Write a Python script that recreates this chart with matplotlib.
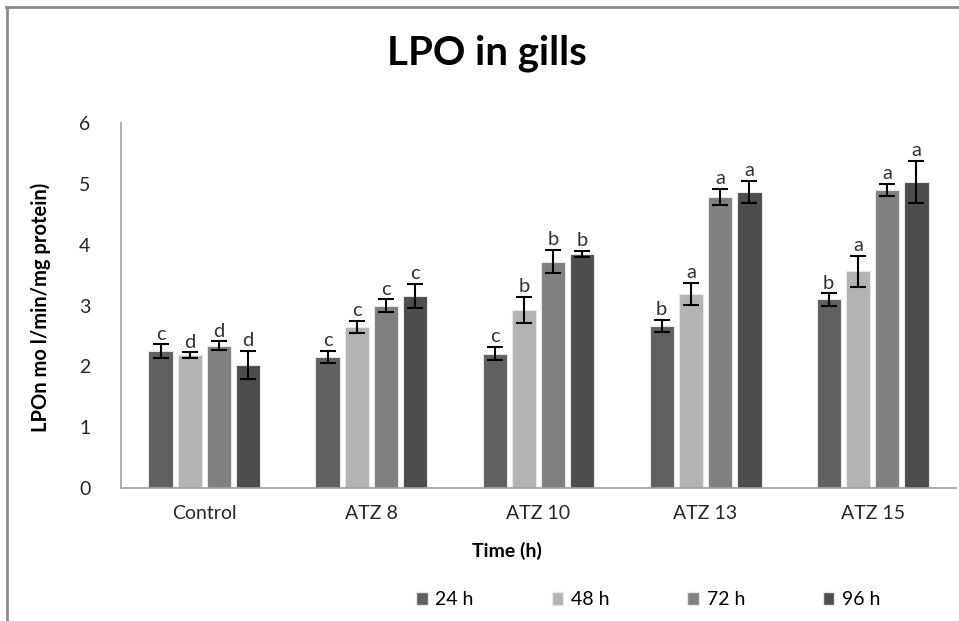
"""LPO in gills - grouped bars with SE and significance letters."""

import matplotlib.pyplot as plt
import numpy as np
from matplotlib.lines import Line2D
from matplotlib.patches import Patch

groups = ['Control', 'ATZ 8', 'ATZ 10', 'ATZ 13', 'ATZ 15']
series = ['24 h', '48 h', '72 h', '96 h']

lpo_24 = [2.25, 2.15, 2.21, 2.66, 3.10]
lpo_48 = [2.18, 2.65, 2.93, 3.19, 3.56]
lpo_72 = [2.34, 3.00, 3.72, 4.78, 4.90]
lpo_96 = [2.02, 3.16, 3.85, 4.87, 5.03]

err_24 = [0.11, 0.10, 0.11, 0.10, 0.10]
err_48 = [0.05, 0.10, 0.21, 0.18, 0.26]
err_72 = [0.07, 0.10, 0.19, 0.13, 0.10]
err_96 = [0.23, 0.20, 0.05, 0.18, 0.35]

let_24 = ['c', 'c', 'c', 'b', 'b']
let_48 = ['d', 'c', 'b', 'a', 'a']
let_72 = ['d', 'c', 'b', 'a', 'a']
let_96 = ['d', 'c', 'b', 'a', 'a']

colors = ['#606060', '#b3b3b3', '#808080', '#4d4d4d']

values = [lpo_24, lpo_48, lpo_72, lpo_96]
errors = [err_24, err_48, err_72, err_96]
letters = [let_24, let_48, let_72, let_96]

plt.rcParams['font.family'] = ['Lato', 'DejaVu Sans']

fig = plt.figure(figsize=(9.59, 6.21), dpi=100)
ax = fig.add_axes([0.126, 0.214, 0.871, 0.588])

x = np.arange(len(groups))
width = 0.145
pitch = 0.175

for i in range(4):
    pos = x + (i - 1.5) * pitch
    ax.bar(pos, values[i], width, color=colors[i], edgecolor='#e6e6e6',
           linewidth=0.8, zorder=2)
    ax.errorbar(pos, values[i], yerr=errors[i], fmt='none', ecolor='black',
                elinewidth=1.5, capsize=6, capthick=1.5, zorder=3)
    for p, v, e, t in zip(pos, values[i], errors[i], letters[i]):
        ax.text(p, v + e + 0.03, t, ha='center', va='bottom', fontsize=14.5,
                color='#333333')

ax.set_xlim(-0.5, len(groups) - 0.5)
ax.set_ylim(0, 6)
ax.set_yticks(range(7))
ax.set_xticks(x)
ax.set_xticklabels(groups)
ax.tick_params(axis='both', length=0, labelsize=14, colors='#262626')
ax.tick_params(axis='y', pad=22)
ax.tick_params(axis='x', pad=12)
for s in ['top', 'right']:
    ax.spines[s].set_visible(False)
for s in ['left', 'bottom']:
    ax.spines[s].set_color('#a0a0a0')
    ax.spines[s].set_linewidth(1.2)

fig.text(0.508, 0.915, 'LPO in gills', ha='center', va='center',
         fontsize=29, fontweight='bold')
fig.text(0.042, 0.505, 'LPOn mo l/min/mg protein)', rotation=90,
         ha='center', va='center', fontsize=14.5, fontweight='bold')
fig.text(0.529, 0.112, 'Time (h)', ha='center', va='center',
         fontsize=14, fontweight='bold')

handles = [Patch(facecolor=c, edgecolor='#e6e6e6') for c in colors]
fig.legend(handles, series, loc='center', bbox_to_anchor=(0.676, 0.034),
           ncol=4, frameon=False, fontsize=14, handlelength=0.6,
           handleheight=0.6, handletextpad=0.4, columnspacing=4.0)

# outer chart border (top and left visible)
fig.add_artist(Line2D([0.006, 1.0], [0.989, 0.989], color='#8c8c8c', lw=2,
                      transform=fig.transFigure))
fig.add_artist(Line2D([0.007, 0.007], [0.0, 0.989], color='#8c8c8c', lw=2,
                      transform=fig.transFigure))

fig.savefig('out.png', dpi=100)
